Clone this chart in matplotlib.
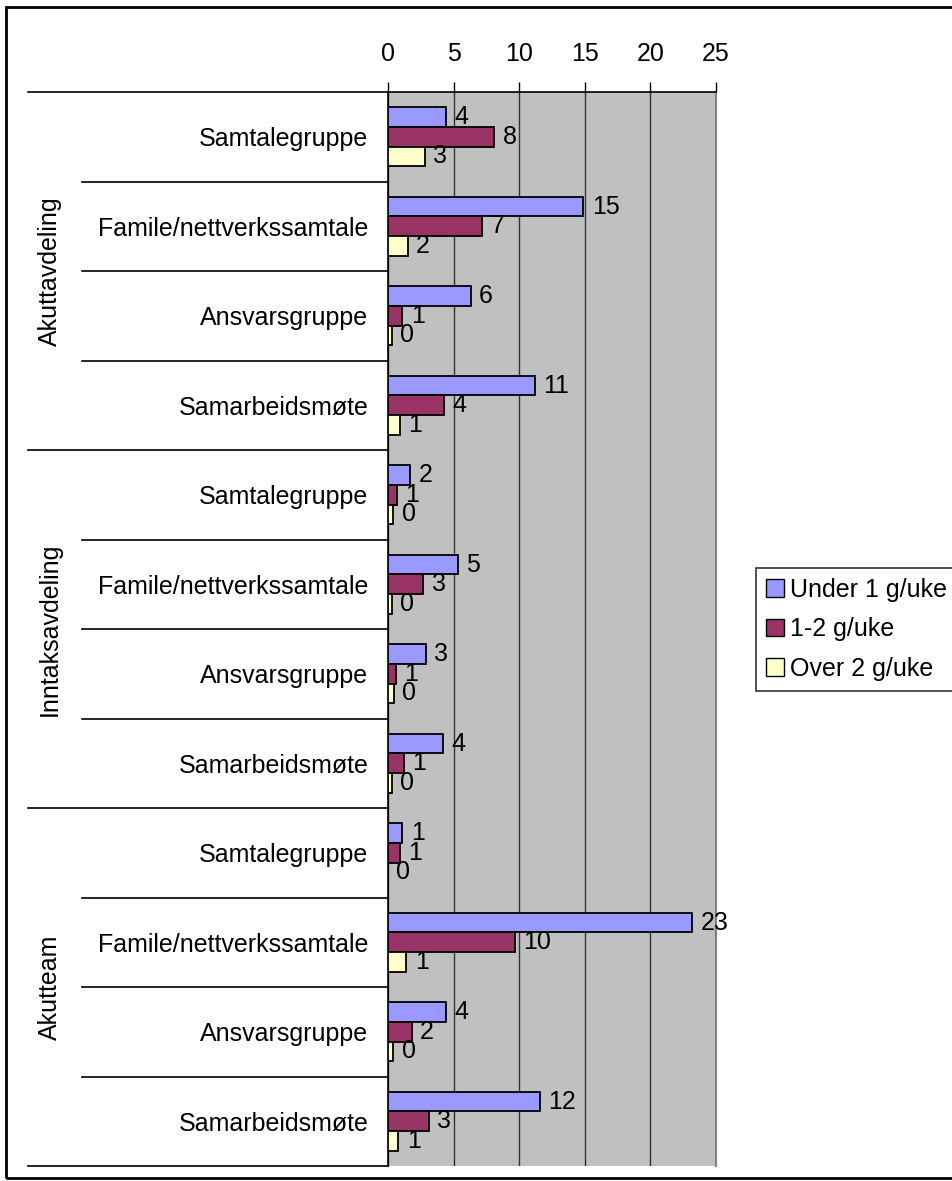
import numpy as np
import matplotlib
matplotlib.use("Agg")
import matplotlib.pyplot as plt
from matplotlib.patches import Rectangle, Patch
from matplotlib.transforms import blended_transform_factory

plt.rcParams["font.family"] = ["Liberation Sans", "DejaVu Sans"]

groups = ["Akuttavdeling", "Inntaksavdeling", "Akutteam"]
activities = ["Samtalegruppe", "Famile/nettverkssamtale", "Ansvarsgruppe", "Samarbeidsmøte"]
series_names = ["Under 1 g/uke", "1-2 g/uke", "Over 2 g/uke"]
series_colors = ["#9999FF", "#993366", "#FFFFCC"]

# values per row (group x activity)
under_1 = [4.4, 14.9, 6.3, 11.2, 1.7, 5.3, 2.9, 4.2, 1.1, 23.2, 4.4, 11.6]
one_two = [8.1, 7.2, 1.1, 4.3, 0.7, 2.7, 0.6, 1.2, 0.9, 9.7, 1.8, 3.1]
over_2 = [2.8, 1.5, 0.3, 0.9, 0.4, 0.3, 0.45, 0.3, 0.0, 1.4, 0.4, 0.8]
xticks = [0, 5, 10, 15, 20, 25]

FS = 18
W, H = 953, 1181
fig = plt.figure(figsize=(W / 100, H / 100), dpi=100)
ax = fig.add_axes([388 / W, 1 - 1166 / H, 328 / W, (1166 - 92) / H])
ax.set_facecolor("#C0C0C0")

n_rows = len(under_1)
y = np.arange(n_rows)
bh = 0.218
for k, (vals, col) in enumerate(zip([under_1, one_two, over_2], series_colors)):
    ypos = y + (k - 1) * bh
    ax.barh(ypos, vals, height=bh, color=col, edgecolor="black", linewidth=1.3, zorder=3)
    for yy, v in zip(ypos, vals):
        ax.annotate(f"{v:.0f}", (v, yy), xytext=(6, 0), textcoords="offset points",
                    va="center", ha="left", fontsize=FS, zorder=4, annotation_clip=False)

ax.set_xlim(0, 25)
ax.set_ylim(n_rows - 0.5, -0.5)
ax.xaxis.tick_top()
ax.set_xticks(xticks)
ax.tick_params(axis="x", length=7, width=1, pad=12, labelsize=FS, direction="out")
ax.grid(axis="x", color="#333333", linewidth=1, zorder=1)
ax.set_yticks(y)
ax.set_yticklabels(activities * len(groups), fontsize=FS)
ax.tick_params(axis="y", length=0, pad=14)
for s in ["left", "top"]:
    ax.spines[s].set_color("black")
    ax.spines[s].set_linewidth(1.2)
ax.spines["right"].set_color("#808080")
ax.spines["right"].set_linewidth(1.5)
ax.spines["bottom"].set_visible(False)

# separator lines on the category axis
tr = blended_transform_factory(ax.transAxes, ax.transData)
for b in range(n_rows + 1):
    yb = b - 0.5
    if b % len(activities) == 0:
        x0 = (28 - 388) / 328
    else:
        x0 = (82 - 388) / 328
    ax.plot([x0, 0], [yb, yb], color="black", linewidth=1.2, transform=tr, clip_on=False)

for g, name in enumerate(groups):
    yc = g * len(activities) + (len(activities) - 1) / 2
    ax.text((50 - 388) / 328, yc, name, rotation=90, ha="center", va="center",
            fontsize=FS, transform=tr)

handles = [Patch(facecolor=c, edgecolor="black", label=n) for c, n in zip(series_colors, series_names)]
leg = fig.legend(handles=handles, loc="upper left", bbox_to_anchor=(756 / W, 1 - 568 / H),
                 frameon=True, fancybox=False, fontsize=FS, handlelength=0.7, handleheight=0.7,
                 handletextpad=0.25, labelspacing=0.62, borderpad=0.4, borderaxespad=0)
leg.get_frame().set_edgecolor("black")
leg.get_frame().set_linewidth(1.2)

fig.patches.append(Rectangle((6 / W, 1 - 1178 / H), 1.0, (1178 - 7) / H, transform=fig.transFigure,
                             fill=False, edgecolor="black", linewidth=2))

fig.savefig("out.png", dpi=100)
